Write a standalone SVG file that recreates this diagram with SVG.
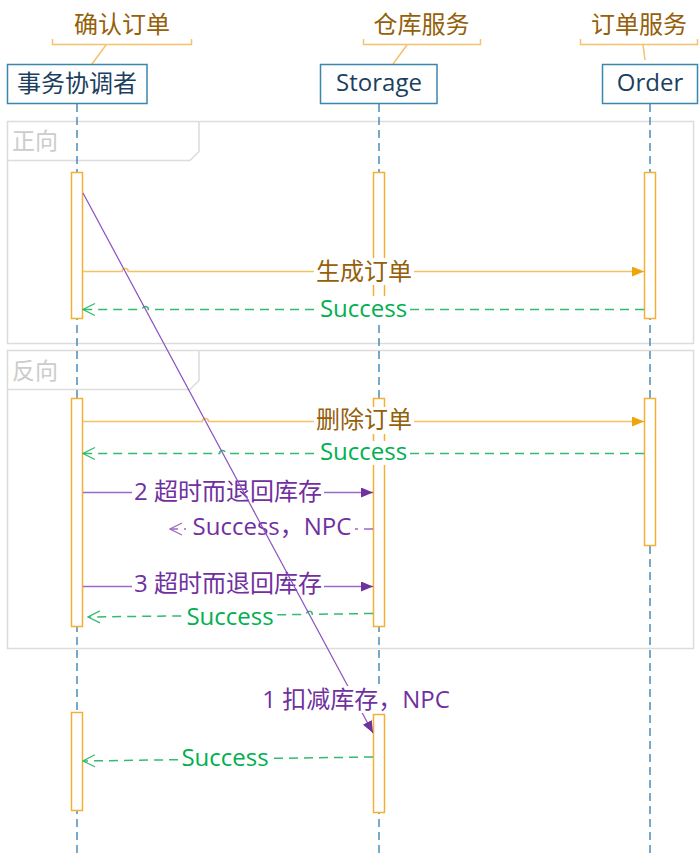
<svg xmlns="http://www.w3.org/2000/svg" width="699" height="858" viewBox="0 0 699 858">
<style>
text{font-family:"Open Sans","Noto Sans CJK SC",sans-serif;font-size:24px;text-anchor:middle}
.brown{fill:#94600a}
.green{fill:#00b050}
.purple{fill:#7030a0}
.hdr{fill:#1c3f5e}
.fragt{fill:#cccccc;font-size:23px;text-anchor:start}
.frag{fill:none;stroke:#dcdcdc;stroke-width:1.5}
.hbox{fill:#ffffff;stroke:#3a87ad;stroke-width:1.5}
.brk{fill:none;stroke:#f5c16c;stroke-width:1.5}
.life{stroke:#4a8db8;stroke-width:1.5;stroke-dasharray:8 5;fill:none}
.act{fill:#ffffff;stroke:#f2b134;stroke-width:1.5}
.call{fill:none;stroke:#f5c165;stroke-width:1.5}
.ret{fill:none;stroke:#33bb6f;stroke-width:1.5;stroke-dasharray:9 6}
.pcall{fill:none;stroke:#9d68c9;stroke-width:1.5}
.pret{fill:none;stroke:#9d68c9;stroke-width:1.5;stroke-dasharray:9 6}
.bg{fill:#ffffff}
</style>
<defs>
<marker id="arrO" viewBox="0 0 12 10" refX="12" refY="5" markerWidth="12" markerHeight="10" markerUnits="userSpaceOnUse" orient="auto"><path d="M0,0 L12,5 L0,10 z" fill="#f0a30a"/></marker>
<marker id="arrP" viewBox="0 0 12 10" refX="12" refY="5" markerWidth="12" markerHeight="10" markerUnits="userSpaceOnUse" orient="auto"><path d="M0,0 L12,5 L0,10 z" fill="#7030a0"/></marker>
<marker id="chevG" viewBox="0 0 14 14" refX="13" refY="7" markerWidth="14" markerHeight="14" markerUnits="userSpaceOnUse" orient="auto"><path d="M1,1 L13,7 L1,13" fill="none" stroke="#33bb6f" stroke-width="1.2"/></marker>
<marker id="chevP" viewBox="0 0 14 14" refX="13" refY="7" markerWidth="14" markerHeight="14" markerUnits="userSpaceOnUse" orient="auto"><path d="M1,1 L13,7 L1,13" fill="none" stroke="#9d68c9" stroke-width="1.2"/></marker>
</defs>
<rect width="699" height="858" fill="#ffffff"/>

<g id="fragments">
<rect class="frag" x="7.5" y="121.5" width="686" height="222"/>
<path class="frag" d="M7.5,160.5 H190 L199,151.5 V121.5"/>
<text class="fragt" x="12" y="149">正向</text>
<rect class="frag" x="7.5" y="350.5" width="686" height="298"/>
<path class="frag" d="M7.5,389.5 H190 L199,380.5 V350.5"/>
<text class="fragt" x="12" y="379">反向</text>
</g>

<g id="lifelines">
<line class="life" x1="77" y1="104" x2="77" y2="858"/>
<line class="life" x1="379" y1="104" x2="379" y2="858"/>
<line class="life" x1="650" y1="104" x2="650" y2="858"/>
</g>

<g id="coordinator">
<path class="brk" d="M52.5,39 V44.5 H191.5 V39"/>
<line class="brk" x1="106" y1="45" x2="92" y2="64"/>
<text class="brown" x="122" y="33">确认订单</text>
<rect class="hbox" x="7.5" y="64.5" width="139.5" height="39"/>
<text class="hdr" x="77" y="91.5">事务协调者</text>
</g>

<g id="storage">
<path class="brk" d="M363.5,39 V44.5 H480.5 V39"/>
<line class="brk" x1="407" y1="45" x2="393" y2="64"/>
<text class="brown" x="421.5" y="33">仓库服务</text>
<rect class="hbox" x="320.5" y="64.5" width="116.5" height="39"/>
<text class="hdr" x="379" y="91">Storage</text>
</g>

<g id="order">
<path class="brk" d="M580.5,39 V44.5 H697.5 V39"/>
<line class="brk" x1="643" y1="45" x2="645" y2="60"/>
<text class="brown" x="639" y="33">订单服务</text>
<rect class="hbox" x="602.5" y="64.5" width="95" height="39"/>
<text class="hdr" x="650" y="91">Order</text>
</g>

<g id="activations">
<rect class="act" x="71.5" y="172.5" width="11" height="146"/>
<rect class="act" x="373.5" y="172.5" width="11" height="146"/>
<rect class="act" x="644.5" y="172.5" width="11" height="146"/>
<rect class="act" x="71.5" y="398.5" width="11" height="228"/>
<rect class="act" x="373.5" y="398.5" width="11" height="228"/>
<rect class="act" x="644.5" y="398.5" width="11" height="147"/>
<rect class="act" x="71.5" y="712.5" width="11" height="98"/>
<rect class="act" x="373.5" y="714.5" width="11" height="98"/>
</g>

<g id="connectors">
<path class="call" d="M83,271.5 H122.2 A3,3 0 0 1 128.2,271.5 H644" marker-end="url(#arrO)"/>
<rect class="bg" x="314" y="258" width="100" height="27"/>
<text class="brown" x="364" y="280">生成订单</text>

<path class="ret" d="M644,309.5 H148.3 A3,3 0 0 0 142.3,309.5 H83" marker-end="url(#chevG)"/>
<rect class="bg" x="317" y="296" width="93" height="26"/>
<text class="green" x="363.5" y="317">Success</text>

<path class="call" d="M83,421.5 H202.4 A3,3 0 0 1 208.4,421.5 H644" marker-end="url(#arrO)"/>
<rect class="bg" x="314" y="407" width="100" height="27"/>
<text class="brown" x="364" y="428">删除订单</text>

<path class="ret" d="M644,453.5 H225.6 A3,3 0 0 0 219.6,453.5 H83" marker-end="url(#chevG)"/>
<rect class="bg" x="317" y="441" width="93" height="24"/>
<text class="green" x="363.5" y="459.5">Success</text>

<path class="pcall" d="M83,492.5 H373" marker-end="url(#arrP)"/>
<rect class="bg" x="132" y="479" width="192" height="26"/>
<text class="purple" x="228" y="500">2 超时而退回库存</text>

<path class="pret" d="M373,529 H170" marker-end="url(#chevP)"/>
<rect class="bg" x="186" y="515" width="169" height="26"/>
<text class="purple" x="272" y="535">Success，NPC</text>

<path class="pcall" d="M83,586.5 H373" marker-end="url(#arrP)"/>
<rect class="bg" x="132" y="572" width="192" height="26"/>
<text class="purple" x="228" y="592">3 超时而退回库存</text>

<path class="ret" d="M373,613.5 L312.3,614.3 A3,3 0 0 0 306.3,614.4 L88,617" marker-end="url(#chevG)"/>
<rect class="bg" x="184" y="603" width="92" height="26"/>
<text class="green" x="230" y="625">Success</text>

<line x1="83" y1="193" x2="373" y2="733" stroke="#8a4fc0" stroke-width="1.2" marker-end="url(#arrP)"/>
<rect class="bg" x="259" y="686" width="195" height="27"/>
<text class="purple" x="356" y="708">1 扣减库存，NPC</text>

<path class="ret" d="M373,757 L83,761" marker-end="url(#chevG)"/>
<rect class="bg" x="179" y="745" width="92" height="25"/>
<text class="green" x="225" y="766">Success</text>
</g>
</svg>
